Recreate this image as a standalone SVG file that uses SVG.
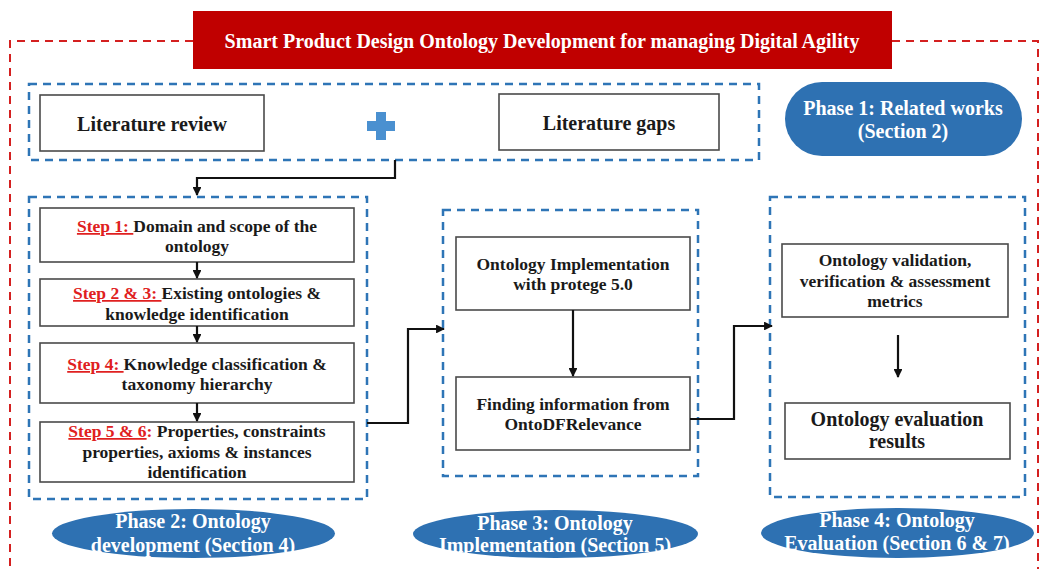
<svg xmlns="http://www.w3.org/2000/svg" width="1041" height="569" viewBox="0 0 1041 569">
<defs>
<style>
text{font-family:'Liberation Serif','Times New Roman',Times,serif;font-weight:bold;text-anchor:middle}
.t{fill:#1a1a1a}
.w{fill:#ffffff}
.L{font-size:20px}
.S{font-size:17.5px}
.box{fill:#fff;stroke:#4a4a4a;stroke-width:1.6}
.bd{fill:none;stroke:#2E75B6;stroke-width:2.5;stroke-dasharray:8,6}
.rd{fill:none;stroke:#D42020;stroke-width:2;stroke-dasharray:8,6}
.pill{fill:#2E71B2}
.s{fill:#E02020;text-decoration:underline}
.c{fill:none;stroke:#111;stroke-width:2.2}
</style>
<marker id="ah" viewBox="0 0 10 10" refX="9" refY="5" markerWidth="4" markerHeight="4" orient="auto"><path d="M0,0 L10,5 L0,10 z" fill="#111"/></marker>
</defs>
<rect width="1041" height="569" fill="#fff"/>
<g id="frame">
<path class="rd" d="M193,41 H10 V569"/>
<path class="rd" d="M892,41 H1038 V569"/>
</g>
<g id="title">
<rect x="193" y="11" width="699" height="58" fill="#C00000"/>
<text class="w L" x="542" y="48">Smart Product Design Ontology Development for managing Digital Agility</text>
</g>
<g id="phase1-group">
<rect class="bd" x="29" y="84" width="730" height="76"/>
</g>
<g id="lit-review">
<rect class="box" x="40" y="95" width="224" height="56"/>
<text class="t L" x="152" y="131">Literature review</text>
</g>
<g id="plus">
<path d="M376,112 h10 v9 h9 v10 h-9 v9 h-10 v-9 h-9 v-10 h9 z" fill="#4A90D0"/>
</g>
<g id="lit-gaps">
<rect class="box" x="499" y="94" width="220" height="56"/>
<text class="t L" x="609" y="130">Literature gaps</text>
</g>
<g id="phase1">
<rect class="pill" x="785" y="82" width="237" height="74" rx="37" ry="37"/>
<text class="w L" x="903" y="115">Phase 1: Related works</text>
<text class="w L" x="903" y="138">(Section 2)</text>
</g>
<g id="phase2-group">
<rect class="bd" x="29" y="197" width="338" height="302"/>
</g>
<g id="step1">
<rect class="box" x="40" y="208" width="314" height="54"/>
<text class="t S" x="197" y="232"><tspan class="s">Step 1: </tspan>Domain and scope of the</text>
<text class="t S" x="197" y="252">ontology</text>
</g>
<g id="step23">
<rect class="box" x="40" y="279" width="314" height="47"/>
<text class="t S" x="197" y="299"><tspan class="s">Step 2 &amp; 3: </tspan>Existing ontologies &amp;</text>
<text class="t S" x="197" y="320">knowledge identification</text>
</g>
<g id="step4">
<rect class="box" x="40" y="343" width="314" height="60"/>
<text class="t S" x="197" y="370"><tspan class="s">Step 4: </tspan>Knowledge classification &amp;</text>
<text class="t S" x="197" y="390">taxonomy hierarchy</text>
</g>
<g id="step56">
<rect class="box" x="40" y="422" width="314" height="60"/>
<text class="t S" x="197" y="437"><tspan class="s">Step 5 &amp; 6</tspan><tspan fill="#E02020">:</tspan> Properties, constraints</text>
<text class="t S" x="197" y="458">properties, axioms &amp; instances</text>
<text class="t S" x="197" y="478">identification</text>
</g>
<g id="phase2">
<rect class="pill" x="52" y="509" width="283" height="49" rx="141" ry="24.5"/>
<text class="w L" x="193" y="528">Phase 2: Ontology</text>
<text class="w L" x="193" y="552">development (Section 4)</text>
</g>
<g id="phase3-group">
<rect class="bd" x="443" y="210" width="255" height="266"/>
</g>
<g id="impl">
<rect class="box" x="456" y="237" width="234" height="73"/>
<text class="t S" x="573" y="270">Ontology Implementation</text>
<text class="t S" x="573" y="290">with protege 5.0</text>
</g>
<g id="finding">
<rect class="box" x="456" y="377" width="234" height="73"/>
<text class="t S" x="573" y="410">Finding information from</text>
<text class="t S" x="573" y="430">OntoDFRelevance</text>
</g>
<g id="phase3">
<rect class="pill" x="413" y="510" width="285" height="48" rx="142" ry="24"/>
<text class="w L" x="555" y="530">Phase 3: Ontology</text>
<text class="w L" x="555" y="552">Implementation (Section 5)</text>
</g>
<g id="phase4-group">
<rect class="bd" x="770" y="197" width="255" height="300"/>
</g>
<g id="validation">
<rect class="box" x="782" y="244" width="226" height="73"/>
<text class="t S" x="895" y="266">Ontology validation,</text>
<text class="t S" x="895" y="287">verification &amp; assessment</text>
<text class="t S" x="895" y="307">metrics</text>
</g>
<g id="evaluation">
<rect class="box" x="785" y="403" width="225" height="56"/>
<text class="t L" x="897" y="426">Ontology evaluation</text>
<text class="t L" x="897" y="448">results</text>
</g>
<g id="phase4">
<rect class="pill" x="761" y="508" width="273" height="50" rx="136" ry="25"/>
<text class="w L" x="897" y="527">Phase 4: Ontology</text>
<text class="w L" x="897" y="550">Evaluation (Section 6 &amp; 7)</text>
</g>
<g id="connectors">
<path class="c" d="M395,160 V178 H197 V195" marker-end="url(#ah)"/>
<path class="c" d="M197,262 V278" marker-end="url(#ah)"/>
<path class="c" d="M197,326 V342" marker-end="url(#ah)"/>
<path class="c" d="M197,403 V421" marker-end="url(#ah)"/>
<path class="c" d="M367,423 H408 V329 H444" marker-end="url(#ah)"/>
<path class="c" d="M573,310 V376" marker-end="url(#ah)"/>
<path class="c" d="M690,419 H734 V326 H772" marker-end="url(#ah)"/>
<path class="c" d="M898,335 V377" marker-end="url(#ah)"/>
</g>
</svg>
